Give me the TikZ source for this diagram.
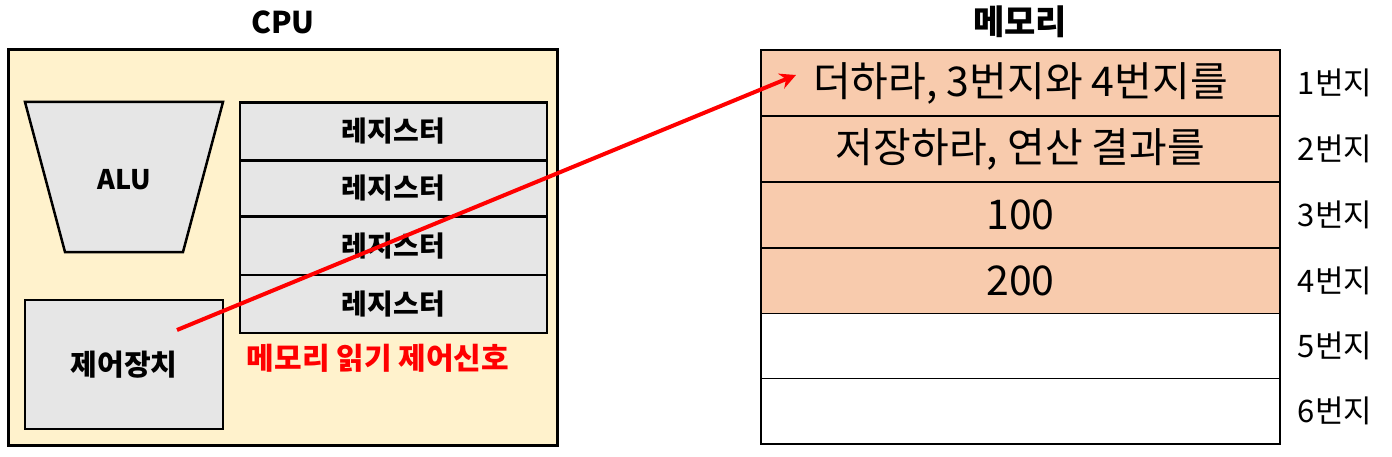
\documentclass[tikz,border=0pt]{standalone}
\usepackage{fontspec}
\setmainfont{Noto Sans CJK KR}
\usetikzlibrary{arrows.meta}
\definecolor{cpuyellow}{HTML}{FFF2CC}
\definecolor{unitgray}{HTML}{E6E6E6}
\definecolor{cellorange}{HTML}{F8CBAD}
\definecolor{sigred}{HTML}{FF0000}
\tikzset{
  x=1pt,y=-1pt,
  unitbox/.style={draw=black,line width=2.5pt,fill=unitgray},
  boldtext/.style={font=\fontsize{#1}{#1}\selectfont\bfseries},
  regbox/.style={unitbox,minimum width=307pt,inner sep=0pt,boldtext=28},
  cellbox/.style={draw=black,line width=1.5pt,minimum width=519pt,minimum height=65.5pt,inner sep=0pt,font=\fontsize{41}{44}\selectfont},
  addrlabel/.style={font=\fontsize{31}{34}\selectfont},
  sigarrow/.style={draw=sigred,line width=4pt,-{Stealth[length=16pt,width=16pt]}}
}
\begin{document}
\begin{tikzpicture}
\useasboundingbox (0,0) rectangle (1392,457);
% CPU
\node[boldtext=30] (cputitle) at (283,22) {CPU};
\draw[line width=3pt,fill=cpuyellow] (8,50) rectangle (557,445);
\filldraw[unitbox] (25,102) -- (223,102) -- (183,252) -- (65,252) -- cycle;
\node[boldtext=27] (alu) at (124,180) {ALU};
\node[regbox,minimum height=58pt] (r1) at (393.5,131.5) {레지스터};
\node[regbox,minimum height=56pt] (r2) at (393.5,188.5) {레지스터};
\node[regbox,minimum height=58pt] (r3) at (393.5,246) {레지스터};
\node[regbox,minimum height=58pt] (r4) at (393.5,304) {레지스터};
\node[unitbox,minimum width=198pt,minimum height=129pt,inner sep=0pt,boldtext=29] (cu) at (124,364.5) {};
\node[boldtext=29] (cutext) at (124,365) {제어장치};
\node[text=sigred,boldtext=30] (siglabel) at (378,358) {메모리 읽기 제어신호};
% Memory
\node[boldtext=34] (memtitle) at (1020,22) {메모리};
\node[cellbox,fill=cellorange] (m1) at (1020.5,83) {더하라, 3번지와 4번지를};
\node[cellbox,fill=cellorange] (m2) at (1020.5,149) {저장하라, 연산 결과를};
\node[cellbox,fill=cellorange] (m3) at (1020.5,215) {100};
\node[cellbox,fill=cellorange] (m4) at (1020.5,281) {200};
\node[cellbox,fill=white] (m5) at (1020.5,346) {};
\node[cellbox,fill=white] (m6) at (1020.5,411) {};
\node[addrlabel] (a1) at (1335,83) {1번지};
\node[addrlabel] (a2) at (1335,149) {2번지};
\node[addrlabel] (a3) at (1335,215) {3번지};
\node[addrlabel] (a4) at (1335,281) {4번지};
\node[addrlabel] (a5) at (1335,346) {5번지};
\node[addrlabel] (a6) at (1335,411) {6번지};
% signal arrow
\coordinate (sigstart) at (177,330);
\coordinate (sigend) at (796,75);
\draw[sigarrow] (sigstart) -- (sigend);
\end{tikzpicture}
\end{document}
